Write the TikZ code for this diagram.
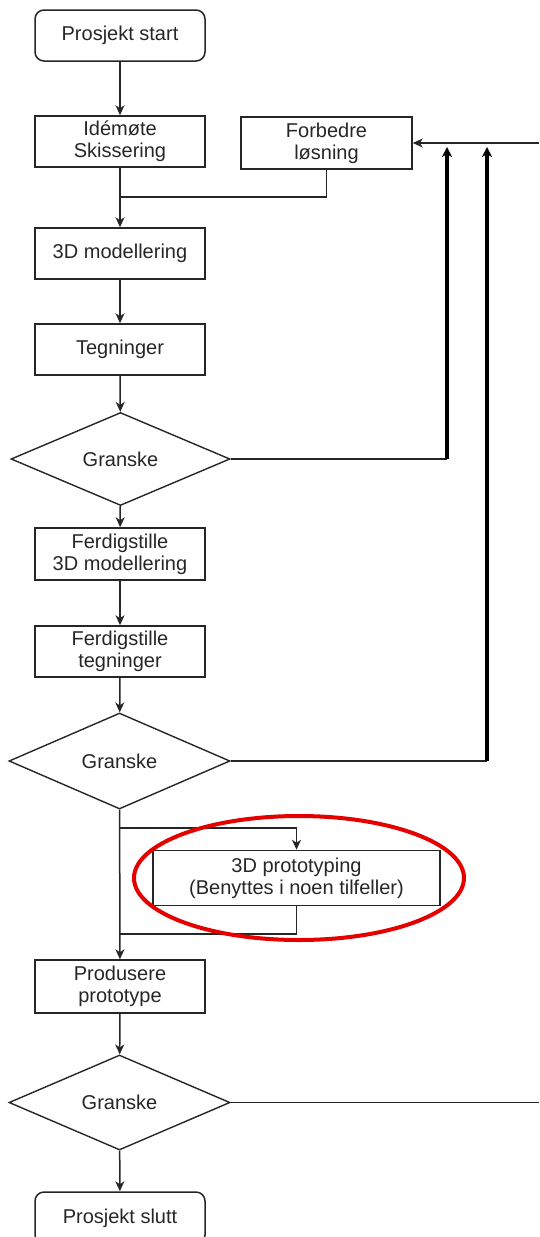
\documentclass[tikz,border=0pt]{standalone}
\usepackage{fontspec}
\setmainfont{Liberation Sans}
\usetikzlibrary{arrows.meta,shapes.geometric}
\begin{document}
\begin{tikzpicture}[x=1pt,y=-1pt,
  every node/.style={font=\fontsize{20}{22}\selectfont, text=black!85},
  box/.style={draw=black!85, line width=1.5pt, minimum width=170pt, minimum height=51pt, inner sep=0pt, align=center},
  startbox/.style={box, rounded corners=9pt},
  decision/.style={diamond, draw=black!85, line width=1.4pt, minimum width=219pt, minimum height=93pt, inner sep=0pt},
  link/.style={draw=black!85, line width=1.5pt},
  flow/.style={link, -{Stealth[length=10pt,width=9pt,inset=3pt]}},
  bigflow/.style={draw=black, line width=3.4pt, -{Stealth[length=10pt,width=10pt,inset=3pt]}},
  ring/.style={draw=red!90!black, line width=4pt}
]
\useasboundingbox (0,0) rectangle (539,1237);
\clip (0,0) rectangle (539,1237);

\node[startbox] (start) at (120,35.5) {Prosjekt start};
\node[box] (ide) at (120,141.5) {Idémøte\\Skissering};
\node[box, minimum width=171pt, minimum height=52pt] (forb) at (326.5,143) {Forbedre\\løsning};
\node[box] (mod) at (120,253.5) {3D modellering};
\node[box] (teg) at (120,349.5) {Tegninger};
\node[decision] (g1) at (120.5,459) {Granske};
\node[box, minimum height=52pt] (fmod) at (120,554) {Ferdigstille\\3D modellering};
\node[box] (fteg) at (120,651.5) {Ferdigstille\\tegninger};
\node[decision, minimum width=221pt, minimum height=96pt] (g2) at (119.5,761) {Granske};
\node[box, minimum width=287pt, minimum height=55pt] (proto) at (296.5,878) {3D prototyping\\(Benyttes i noen tilfeller)};
\node[box, minimum height=53pt] (prod) at (120,986.5) {Produsere\\prototype};
\node[decision, minimum width=221pt, minimum height=95pt] (g3) at (119.5,1102.5) {Granske};
\node[startbox, minimum height=52pt] (end) at (120,1218) {Prosjekt slutt};

\coordinate (j1) at (120,197);
\coordinate (j2) at (120,828);
\coordinate (j3) at (120,934);
\coordinate (e0) at (539,143);
\coordinate (c1) at (447,143);
\coordinate (c2) at (487,143);

\draw[flow] (start) -- (ide);
\draw[flow] (ide) -- (mod);
\draw[link] (forb.south) |- (j1);
\draw[flow] (mod) -- (teg);
\draw[flow] (teg) -- (g1);
\draw[flow] (g1) -- (fmod);
\draw[flow] (fmod) -- (fteg);
\draw[flow] (fteg) -- (g2);
\draw[flow] (g2) -- (prod);
\draw[flow] (j2) -| (proto.north);
\draw[link] (proto.south) |- (j3);
\draw[flow] (prod) -- (g3);
\draw[flow] (g3) -- (end);

\draw[flow] (e0) -- (forb.east);
\draw[link] (g1.east) -- (g1.east -| c1);
\draw[bigflow] (g1.east -| c1) -- ([yshift=-4pt]c1);
\draw[link] (g2.east) -- (g2.east -| c2);
\draw[bigflow] (g2.east -| c2) -- ([yshift=-4pt]c2);
\draw[link] (g3.east) -- (g3.east -| e0);

\draw[ring] (299,878) ellipse [x radius=165pt, y radius=62pt];
\end{tikzpicture}
\end{document}
